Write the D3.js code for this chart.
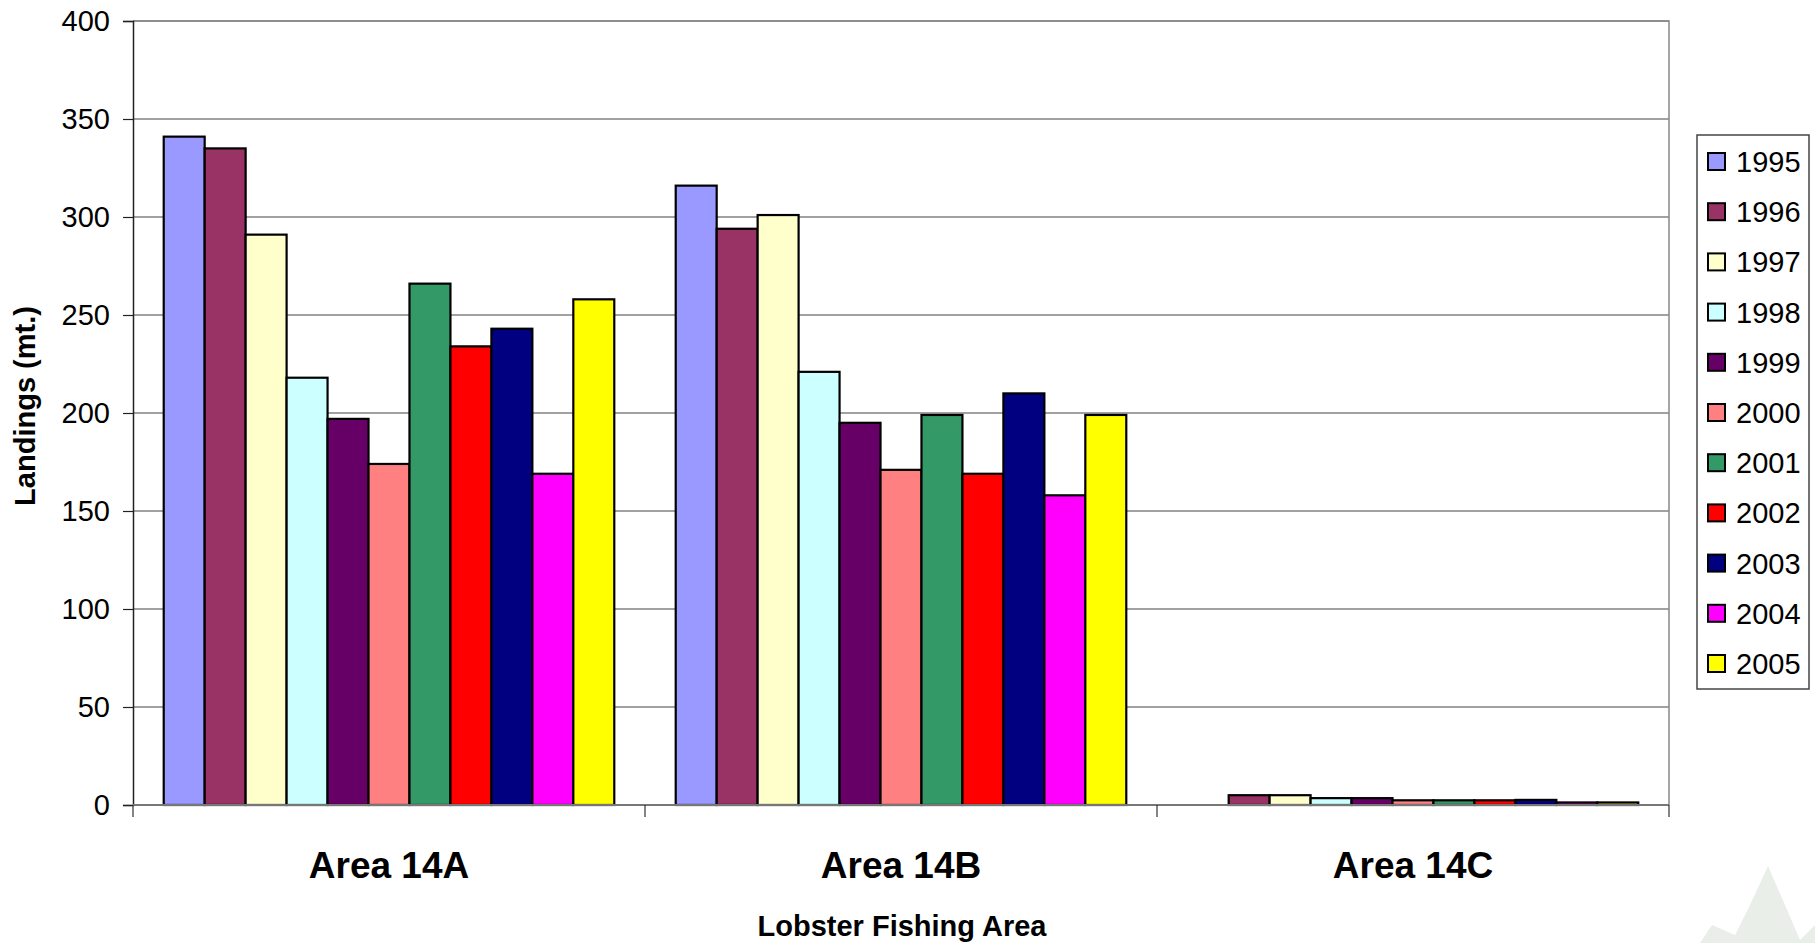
<!DOCTYPE html>
<html>
<head>
<meta charset="utf-8">
<script src="https://cdn.jsdelivr.net/npm/d3@7"></script>
<style>
  html, body { margin: 0; padding: 0; background: #fff; }
  svg { display: block; font-family: "Liberation Sans", Arial, sans-serif; }
</style>
</head>
<body>
<svg id="chart" width="1815" height="943"></svg>
<script>
const categories = ["Area 14A", "Area 14B", "Area 14C"];
const years = ["1995","1996","1997","1998","1999","2000","2001","2002","2003","2004","2005"];
const area14A = [341, 335, 291, 218, 197, 174, 266, 234, 243, 169, 258];
const area14B = [316, 294, 301, 221, 195, 171, 199, 169, 210, 158, 199];
const area14C = [0, 5, 5, 3.5, 3.5, 2.4, 2.4, 2.4, 2.6, 1.3, 1.3];
const yTicks = [0, 50, 100, 150, 200, 250, 300, 350, 400];
const colors = ["#9999FF","#993366","#FFFFCC","#CCFFFF","#660066","#FF8080","#339966","#FF0000","#000080","#FF00FF","#FFFF00"];

const seriesByCat = [area14A, area14B, area14C];

const svg = d3.select("#chart");
const plotL = 133, plotR = 1669, plotT = 21, plotB = 805;

// faint background decoration (watermark leaf)
svg.append("path")
  .attr("d", "M1768,866 L1785,905 L1800,940 L1815,925 L1815,943 L1700,943 L1712,925 L1735,935 L1750,905 Z")
  .attr("fill", "#e9eee9");

const x0 = d3.scaleBand().domain(categories).range([plotL, plotR]).paddingInner(0).paddingOuter(0);
const x1 = d3.scaleBand().domain(years).range([0, x0.bandwidth()]).paddingInner(0).paddingOuter(0.75);
const y = d3.scaleLinear().domain([0, 400]).range([plotB, plotT]);

// gridlines
svg.append("g").selectAll("line").data(yTicks.filter(t => t > 0)).join("line")
  .attr("x1", plotL).attr("x2", plotR)
  .attr("y1", d => y(d)).attr("y2", d => y(d))
  .attr("stroke", "#444").attr("stroke-width", 1.2);

// plot border (top & right)
svg.append("path")
  .attr("d", `M${plotL},${plotT} H${plotR} V${plotB}`)
  .attr("fill", "none").attr("stroke", "#888").attr("stroke-width", 1.5);

// bars
const groups = svg.append("g").selectAll("g").data(categories).join("g")
  .attr("transform", d => `translate(${x0(d)},0)`);
groups.selectAll("rect")
  .data((c, i) => years.map((yr, j) => ({ yr, v: seriesByCat[i][j], color: colors[j] })).filter(d => d.v > 0))
  .join("rect")
  .attr("x", d => x1(d.yr))
  .attr("y", d => y(d.v))
  .attr("width", x1.bandwidth())
  .attr("height", d => y(0) - y(d.v))
  .attr("fill", d => d.color)
  .attr("stroke", "#000").attr("stroke-width", 2.2);

// y axis
const yAxis = svg.append("g").attr("transform", `translate(${plotL},0)`)
  .call(d3.axisLeft(y).tickValues(yTicks).tickSize(10).tickPadding(13).tickFormat(d3.format("d")));
yAxis.select(".domain").attr("stroke", "#222").attr("stroke-width", 1.5);
yAxis.selectAll(".tick line").attr("stroke", "#222").attr("stroke-width", 1.2);
yAxis.selectAll("text").attr("font-size", 29).attr("fill", "#000")
  .attr("font-family", "Liberation Sans, Arial, sans-serif");

// x axis
const xAxis = svg.append("g").attr("transform", `translate(0,${plotB})`)
  .call(d3.axisBottom(x0).tickSize(0).tickPadding(0));
xAxis.select(".domain").remove();
xAxis.selectAll(".tick text").remove();
xAxis.append("line").attr("x1", plotL).attr("x2", plotR).attr("y1", 0).attr("y2", 0)
  .attr("stroke", "#777").attr("stroke-width", 2);
const bounds = categories.map(c => x0(c)).concat([x0(categories[categories.length - 1]) + x0.bandwidth()]);
xAxis.selectAll(".bound").data(bounds).join("line").attr("class", "bound")
  .attr("x1", d => d).attr("x2", d => d).attr("y1", 0).attr("y2", 12)
  .attr("stroke", "#333").attr("stroke-width", 1.2);
xAxis.selectAll(".catlabel").data(categories).join("text").attr("class", "catlabel")
  .attr("x", d => x0(d) + x0.bandwidth() / 2).attr("y", 73)
  .attr("text-anchor", "middle").attr("font-size", 37).attr("font-weight", "bold")
  .attr("fill", "#000").text(d => d);

// axis titles
svg.append("text").attr("x", 902).attr("y", 936).attr("text-anchor", "middle")
  .attr("font-size", 29).attr("font-weight", "bold").text("Lobster Fishing Area");
svg.append("text").attr("transform", "translate(35,406) rotate(-90)").attr("text-anchor", "middle")
  .attr("font-size", 29).attr("font-weight", "bold").text("Landings (mt.)");

// legend
const lg = svg.append("g");
lg.append("rect").attr("x", 1697).attr("y", 135).attr("width", 112).attr("height", 554)
  .attr("fill", "#fff").attr("stroke", "#444").attr("stroke-width", 1.5);
const ly = d3.scalePoint().domain(years).range([161.5, 663.5]);
const items = lg.selectAll("g.item").data(years).join("g").attr("class", "item")
  .attr("transform", d => `translate(1708,${ly(d)})`);
items.append("rect").attr("x", 0).attr("y", -8.5).attr("width", 17).attr("height", 17)
  .attr("fill", (d, i) => colors[i]).attr("stroke", "#000").attr("stroke-width", 2);
items.append("text").attr("x", 28).attr("y", 0).attr("dy", "0.36em")
  .attr("font-size", 29).attr("fill", "#000").text(d => d);
</script>
</body>
</html>
